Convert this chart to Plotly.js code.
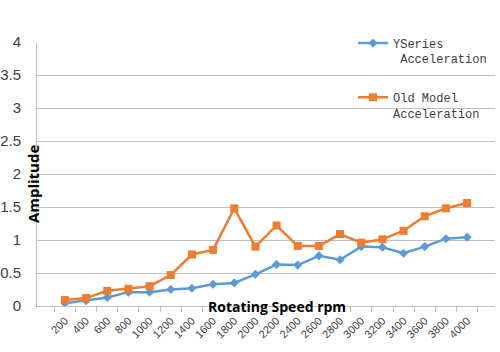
<!DOCTYPE html>
<html><head><meta charset="utf-8">
<script src="https://cdn.plot.ly/plotly-3.0.1.min.js"></script>
<style>body{margin:0;padding:0;background:#fff}#c{width:500px;height:352px}</style>
</head><body><div id="c"></div>
<script>
const categories = ['200','400','600','800','1000','1200','1400','1600','1800','2000','2200','2400','2600','2800','3000','3200','3400','3600','3800','4000'];
const ySeries = [0.04,0.08,0.13,0.21,0.21,0.25,0.27,0.33,0.35,0.48,0.63,0.62,0.76,0.70,0.90,0.89,0.80,0.90,1.02,1.04];
const oldModel = [0.09,0.12,0.23,0.26,0.30,0.47,0.78,0.85,1.48,0.90,1.22,0.91,0.91,1.09,0.96,1.01,1.14,1.36,1.48,1.56];
const yTicks = [0,0.5,1,1.5,2,2.5,3,3.5,4];
const yTickText = ['0','0.5','1','1.5','2','2.5','3','3.5','4'];

const traces = [
  {x: categories, y: ySeries, name: 'YSeries<br> Acceleration', type: 'scatter', mode: 'lines+markers', legendgroup: 'a',
   line: {color: '#5b9bd5', width: 2.5}, marker: {symbol: 'diamond', size: 7, color: '#5b9bd5'}},
  {x: categories, y: oldModel, name: 'Old Model<br>Acceleration', type: 'scatter', mode: 'lines+markers', legendgroup: 'b',
   line: {color: '#ed7d31', width: 2.5}, marker: {symbol: 'square', size: 8, color: '#ed7d31'}}
];
const layout = {
  width: 500, height: 352,
  margin: {l: 37, r: 5, t: 42, b: 46, autoexpand: false},
  paper_bgcolor: '#fff', plot_bgcolor: '#fff',
  showlegend: true,
  legend: {x: 0.69, y: 1.05, xanchor: 'left', yanchor: 'top', bgcolor: 'rgba(0,0,0,0)',
    font: {family: 'Liberation Mono, monospace', size: 12, color: '#404040'}, valign: 'top', tracegroupgap: 20},
  xaxis: {type: 'category', tickson: 'boundaries', ticks: 'outside', ticklen: 5, tickcolor: '#bfbfbf',
    showline: true, linecolor: '#bfbfbf', linewidth: 1, showgrid: false, tickangle: -45, automargin: false,
    ticklabelstandoff: 3,
    tickfont: {family: 'Liberation Sans, Arial', size: 11, color: '#404040'}, zeroline: false},
  yaxis: {range: [0, 4], tickvals: yTicks, ticktext: yTickText, showline: true, linecolor: '#bfbfbf',
    gridcolor: '#bfbfbf', gridwidth: 1, zeroline: false, ticks: '', automargin: false, ticklabelstandoff: 12,
    tickfont: {family: 'Liberation Sans, Arial', size: 15, color: '#404040'}},
  annotations: [
    {text: '<b>Amplitude</b>', textangle: -90, xref: 'paper', yref: 'paper', x: -0.009, y: 0.465,
     xanchor: 'center', yanchor: 'middle',
     showarrow: false, font: {family: 'Open Sans, Liberation Sans', size: 15, color: '#000'}},
    {text: '<b>Rotating Speed rpm</b>', xref: 'paper', yref: 'paper', x: 0.524, y: 0.0,
     xanchor: 'center', yanchor: 'middle',
     showarrow: false, font: {family: 'Open Sans, Liberation Sans', size: 14, color: '#000'}}
  ]
};
Plotly.newPlot('c', traces, layout, {displayModeBar: false, staticPlot: true});
</script></body></html>
